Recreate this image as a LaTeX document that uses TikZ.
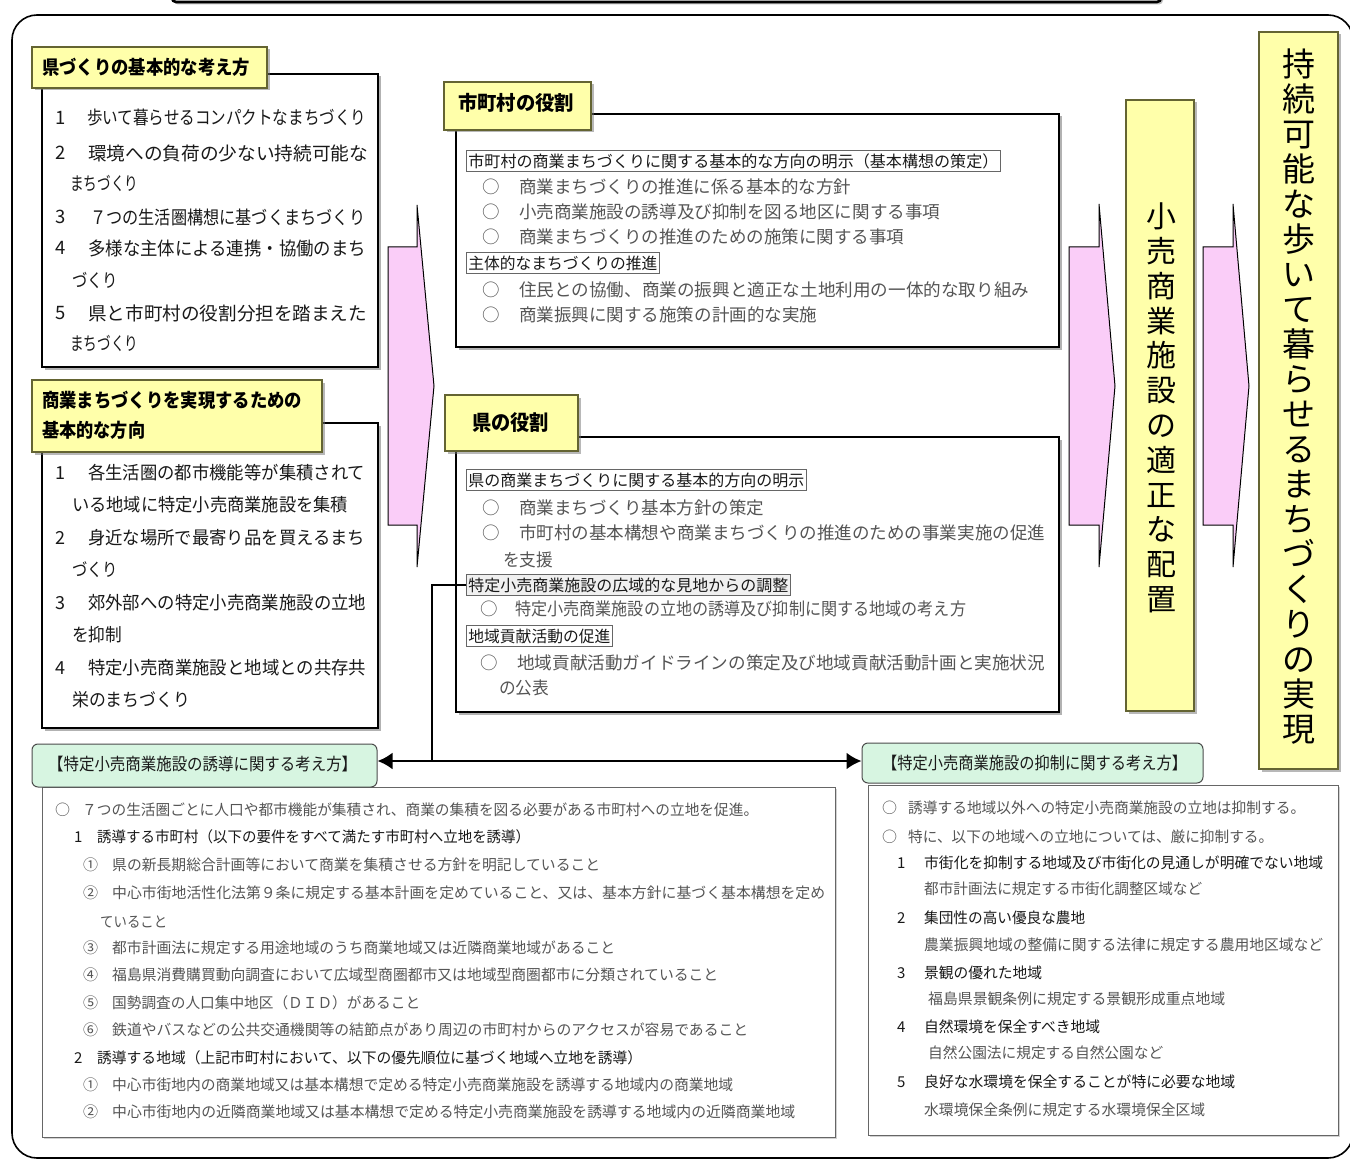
\documentclass[tikz,border=0pt]{standalone}
\usepackage{fontspec}
\setmainfont{Noto Sans CJK JP}
\usepackage{graphicx}
\usetikzlibrary{fit,shadows,arrows.meta}
\definecolor{yfill}{RGB}{255,255,170}
\definecolor{ybord}{RGB}{100,100,50}
\definecolor{pinkf}{RGB}{250,205,248}
\definecolor{gfill}{RGB}{215,245,225}
\definecolor{txtd}{RGB}{25,25,25}
\definecolor{txtg}{RGB}{85,85,85}
\newcommand{\fw}[2]{\resizebox{#1pt}{\height}{#2}}
\newcommand{\tx}[5]{\node[#1] (#2) at (#3) {\fw{#4}{#5}};}
\newcommand{\fs}[1]{\fontsize{#1}{#1}\selectfont}
\begin{document}
\begin{tikzpicture}[x=1pt,y=-1pt,
  box/.style={draw=black, line width=1.3pt, fill=white, inner sep=0, drop shadow={shadow xshift=2.5pt,shadow yshift=-2.5pt,fill=black!60}},
  gbox/.style={draw=black!60, line width=1pt, fill=white, inner sep=0, drop shadow={shadow xshift=2pt,shadow yshift=-2pt,fill=black!35}},
  ybox/.style={draw=ybord, line width=1.8pt, fill=yfill, inner sep=0, drop shadow={shadow xshift=2.5pt,shadow yshift=-2.5pt,fill=black!55}},
  grn/.style={draw=black!70, line width=1pt, fill=gfill, rounded corners=6pt, inner sep=0},
  lt/.style={anchor=west, inner sep=0, text=txtd, font=\fs{18.5}},
  lt2/.style={anchor=west, inner sep=0, text=txtd, font=\fs{18}},
  mt/.style={anchor=west, inner sep=0, text=txtg, font=\fs{17.5}},
  sh/.style={anchor=west, draw=black!60, line width=0.8pt, fill=white, inner xsep=2pt, inner ysep=3pt, text=black!90, font=\fs{16}},
  st/.style={anchor=west, inner sep=0, text=txtg, font=\fs{15}},
  sd/.style={anchor=west, inner sep=0, text=txtd, font=\fs{15}},
  tt/.style={anchor=west, inner sep=0, text=black, font=\fs{19}\bfseries},
  gt/.style={anchor=west, inner sep=0, text=txtd, font=\fs{17}},
  vt/.style={inner sep=0, align=center, text=black},
  parrow/.style={fill=pinkf, draw=black, line width=1pt, line join=miter},
  conn/.style={line width=2.5pt, draw=black},
  cend/.style={conn, -{Latex[length=15pt,width=17pt]}}
]
\useasboundingbox (0,0) rectangle (1350,1161);
\fill[white] (0,0) rectangle (1350,1161);

% frame and top bar
\node[fit={(12,15) (1353,1158)}, inner sep=0, draw=black, line width=1.6pt, rounded corners=25pt] (frame) {};
\node[fit={(172,-30) (1161,2)}, inner sep=0, draw=black, line width=2.6pt, rounded corners=4pt, fill=white, drop shadow={shadow xshift=2pt,shadow yshift=-2.5pt,fill=black!50}] (topbar) {};

% body boxes
\node[box, fit={(42,74) (378,367)}] (B1) {};
\node[box, fit={(42,423) (378,728)}] (B2) {};
\node[box, fit={(456,114) (1059,347)}] (M1) {};
\node[box, fit={(456,437) (1059,712)}] (M2) {};
\node[gbox, fit={(42,787) (835,1137)}] (BL) {};
\node[gbox, fit={(868,785) (1338,1135)}] (BR) {};

% title boxes
\node[ybox, fit={(32,47) (267,88)}] (TB1) {};
\node[ybox, fit={(32,380) (322,452)}] (TB2) {};
\node[ybox, fit={(444,82) (591,130)}] (TB3) {};
\node[ybox, fit={(445,395) (578,451)}] (TB4) {};
\node[grn, fit={(32,744) (377,787)}] (g1) {};
\node[grn, fit={(862,743) (1203,783)}] (g2) {};

% pink arrows
\path[parrow] (388,247) -- (417,247) -- (417,205) -- (434,386) -- (417,567) -- (417,525) -- (388,525) -- cycle;
\path[parrow] (1069,247) -- (1099,247) -- (1099,204) -- (1115,386) -- (1099,567) -- (1099,525) -- (1069,525) -- cycle;
\path[parrow] (1203,247) -- (1233,247) -- (1233,204) -- (1249,386) -- (1233,567) -- (1233,525) -- (1203,525) -- cycle;

% vertical yellow boxes
\node[ybox, fit={(1126,100) (1194,711)}] (Y1) {};
\node[ybox, fit={(1259,32) (1338,769)}] (Y2) {};
\node[vt, font=\fontsize{30}{34.8}\selectfont] (v1) at (1161,408) {小\\売\\商\\業\\施\\設\\の\\適\\正\\な\\配\\置};
\node[vt, font=\fontsize{33}{35}\selectfont] (v2) at (1299,397) {持\\続\\可\\能\\な\\歩\\い\\て\\暮\\ら\\せ\\る\\ま\\ち\\づ\\く\\り\\の\\実\\現};

% title texts
\tx{tt}{t1}{42,67}{208}{県づくりの基本的な考え方}
\tx{tt}{t2a}{42,400}{260}{商業まちづくりを実現するための}
\tx{tt}{t2b}{42,430}{103}{基本的な方向}
\tx{tt, font=\fs{20}\bfseries}{t3}{458,103}{116}{市町村の役割}
\tx{tt, font=\fs{21}\bfseries}{t4}{472,423}{77}{県の役割}
\tx{gt}{gt1}{48,764}{309}{【特定小売商業施設の誘導に関する考え方】}
\tx{gt}{gt2}{882,763}{305}{【特定小売商業施設の抑制に関する考え方】}

% left box 1
\node[lt] (n11) at (55,118) {1};
\node[lt] (n12) at (55,153) {2};
\node[lt] (n13) at (55,217) {3};
\node[lt] (n14) at (55,248) {4};
\node[lt] (n15) at (55,313) {5};
\tx{lt}{a1}{87,118}{279}{歩いて暮らせるコンパクトなまちづくり}
\tx{lt}{a2}{88,153}{280}{環境への負荷の少ない持続可能な}
\tx{lt}{a2c}{70,183}{68}{まちづくり}
\tx{lt}{a3}{90,217}{275}{７つの生活圏構想に基づくまちづくり}
\tx{lt}{a4}{88,248}{278}{多様な主体による連携・協働のまち}
\tx{lt}{a4c}{72,280}{46}{づくり}
\tx{lt}{a5}{88,313}{279}{県と市町村の役割分担を踏まえた}
\tx{lt}{a5c}{70,343}{68}{まちづくり}

% left box 2
\node[lt2] (n21) at (55,473) {1};
\node[lt2] (n22) at (55,538) {2};
\node[lt2] (n23) at (55,603) {3};
\node[lt2] (n24) at (55,668) {4};
\tx{lt2}{b1}{88,473}{277}{各生活圏の都市機能等が集積されて}
\tx{lt2}{b1c}{72,505}{276}{いる地域に特定小売商業施設を集積}
\tx{lt2}{b2}{88,538}{277}{身近な場所で最寄り品を買えるまち}
\tx{lt2}{b2c}{72,570}{46}{づくり}
\tx{lt2}{b3}{88,603}{278}{郊外部への特定小売商業施設の立地}
\tx{lt2}{b3c}{72,635}{50}{を抑制}
\tx{lt2}{b4}{88,668}{278}{特定小売商業施設と地域との共存共}
\tx{lt2}{b4c}{72,700}{118}{栄のまちづくり}

% middle box 1
\tx{sh}{sub1}{466,161}{530}{市町村の商業まちづくりに関する基本的な方向の明示（基本構想の策定）}
\node[mt] (c1o) at (482,187) {○};
\node[mt] (c2o) at (482,212) {○};
\node[mt] (c3o) at (482,237) {○};
\tx{mt}{c1}{519,187}{332}{商業まちづくりの推進に係る基本的な方針}
\tx{mt}{c2}{519,212}{421}{小売商業施設の誘導及び抑制を図る地区に関する事項}
\tx{mt}{c3}{519,237}{385}{商業まちづくりの推進のための施策に関する事項}
\tx{sh}{sub2}{466,263}{189}{主体的なまちづくりの推進}
\node[mt] (c4o) at (482,290) {○};
\node[mt] (c5o) at (482,315) {○};
\tx{mt}{c4}{519,290}{510}{住民との協働、商業の振興と適正な土地利用の一体的な取り組み}
\tx{mt}{c5}{519,315}{298}{商業振興に関する施策の計画的な実施}

% middle box 2
\tx{sh}{sub3}{466,480}{336}{県の商業まちづくりに関する基本的方向の明示}
\node[mt] (d1o) at (482,508) {○};
\node[mt] (d2o) at (482,533) {○};
\tx{mt}{d1}{519,508}{245}{商業まちづくり基本方針の策定}
\tx{mt}{d2}{519,533}{526}{市町村の基本構想や商業まちづくりの推進のための事業実施の促進}
\tx{mt}{d2c}{503,560}{50}{を支援}
\tx{sh, fill=black!6}{sub4}{466,585}{320}{特定小売商業施設の広域的な見地からの調整}
\node[mt] (d3o) at (480,609) {○};
\tx{mt}{d3}{515,609}{451}{特定小売商業施設の立地の誘導及び抑制に関する地域の考え方}
\tx{sh}{sub5}{466,636}{142}{地域貢献活動の促進}
\node[mt] (d4o) at (480,663) {○};
\tx{mt}{d4}{517,663}{528}{地域貢献活動ガイドラインの策定及び地域貢献活動計画と実施状況}
\tx{mt}{d4c}{499,688}{50}{の公表}

% bottom left box
\node[st] (L1o) at (55,810) {○};
\tx{st}{L1}{82,810}{676}{７つの生活圏ごとに人口や都市機能が集積され、商業の集積を図る必要がある市町村への立地を促進。}
\node[sd] (L2n) at (74,837) {1};
\tx{sd}{L2}{97,837}{433}{誘導する市町村（以下の要件をすべて満たす市町村へ立地を誘導）}
\node[st] (L3n) at (83,865) {①};
\tx{st}{L3}{112,865}{488}{県の新長期総合計画等において商業を集積させる方針を明記していること}
\node[st] (L4n) at (83,893) {②};
\tx{st}{L4}{112,893}{713}{中心市街地活性化法第９条に規定する基本計画を定めていること、又は、基本方針に基づく基本構想を定め}
\tx{st}{L5}{100,922}{67}{ていること}
\node[st] (L6n) at (83,948) {③};
\tx{st}{L6}{112,948}{503}{都市計画法に規定する用途地域のうち商業地域又は近隣商業地域があること}
\node[st] (L7n) at (83,975) {④};
\tx{st}{L7}{112,975}{606}{福島県消費購買動向調査において広域型商圏都市又は地域型商圏都市に分類されていること}
\node[st] (L8n) at (83,1003) {⑤};
\tx{st}{L8}{112,1003}{308}{国勢調査の人口集中地区（ＤＩＤ）があること}
\node[st] (L9n) at (83,1030) {⑥};
\tx{st}{L9}{112,1030}{636}{鉄道やバスなどの公共交通機関等の結節点があり周辺の市町村からのアクセスが容易であること}
\node[sd] (L10n) at (74,1058) {2};
\tx{sd}{L10}{97,1058}{545}{誘導する地域（上記市町村において、以下の優先順位に基づく地域へ立地を誘導）}
\node[st] (L11n) at (83,1085) {①};
\tx{st}{L11}{112,1085}{621}{中心市街地内の商業地域又は基本構想で定める特定小売商業施設を誘導する地域内の商業地域}
\node[st] (L12n) at (83,1112) {②};
\tx{st}{L12}{112,1112}{683}{中心市街地内の近隣商業地域又は基本構想で定める特定小売商業施設を誘導する地域内の近隣商業地域}

% bottom right box
\node[st] (R1o) at (882,808) {○};
\tx{st}{R1}{908,808}{397}{誘導する地域以外への特定小売商業施設の立地は抑制する。}
\node[st] (R2o) at (882,837) {○};
\tx{st}{R2}{908,837}{365}{特に、以下の地域への立地については、厳に抑制する。}
\node[sd] (R3n) at (897,863) {1};
\tx{sd}{R3}{924,863}{399}{市街化を抑制する地域及び市街化の見通しが明確でない地域}
\tx{st}{R4}{924,889}{278}{都市計画法に規定する市街化調整区域など}
\node[sd] (R5n) at (897,918) {2};
\tx{sd}{R5}{924,918}{161}{集団性の高い優良な農地}
\tx{st}{R6}{924,945}{399}{農業振興地域の整備に関する法律に規定する農用地区域など}
\node[sd] (R7n) at (897,973) {3};
\tx{sd}{R7}{924,973}{118}{景観の優れた地域}
\tx{st}{R8}{928,999}{297}{福島県景観条例に規定する景観形成重点地域}
\node[sd] (R9n) at (897,1027) {4};
\tx{sd}{R9}{924,1027}{176}{自然環境を保全すべき地域}
\tx{st}{R10}{928,1053}{235}{自然公園法に規定する自然公園など}
\node[sd] (R11n) at (897,1082) {5};
\tx{sd}{R11}{924,1082}{311}{良好な水環境を保全することが特に必要な地域}
\tx{st}{R12}{924,1110}{281}{水環境保全条例に規定する水環境保全区域}

% connectors
\coordinate (jn) at (432,761);
\draw[conn] (sub4.west) -| (jn);
\draw[cend] (jn) -- (jn -| g1.east);
\draw[cend] (jn) -- (jn -| g2.west);
\end{tikzpicture}
\end{document}
